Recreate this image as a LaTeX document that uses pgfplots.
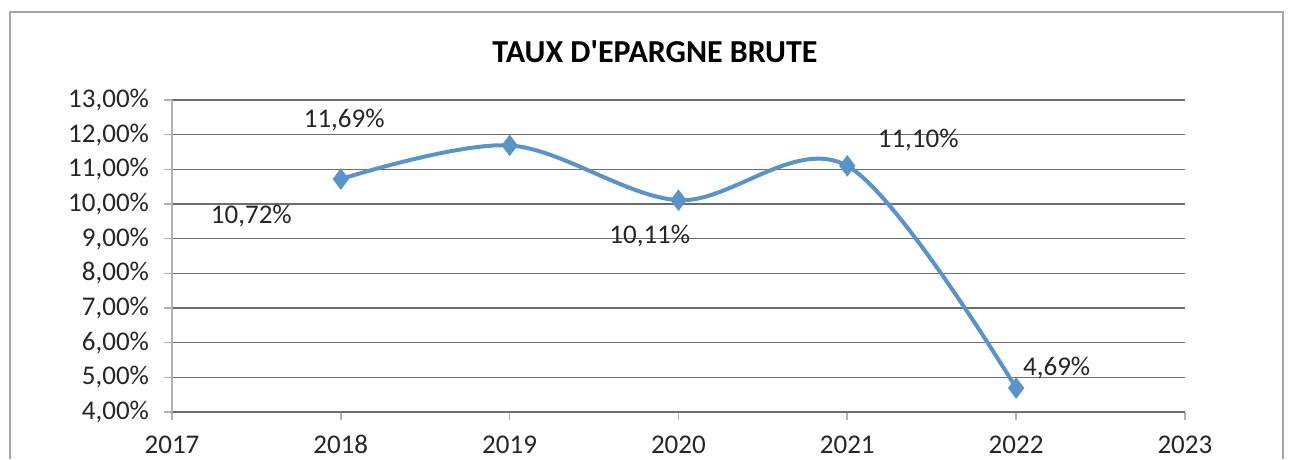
\documentclass[border=0pt]{standalone}
\usepackage{pgfplots}
\pgfplotsset{compat=1.18}
\usepackage{fontspec}
\setmainfont{Carlito}
\definecolor{serie}{RGB}{90,146,202}
\definecolor{gridc}{RGB}{110,110,110}
\begin{document}
\begin{tikzpicture}[x=1pt,y=1pt]
\path (0,0) rectangle (644.5,229.5);
\draw[gray!70,line width=0.8pt] (5,0) -- (5,223.5) -- (641.5,223.5) -- (641.5,0);
\node[font=\fontsize{16}{19}\selectfont\bfseries] at (327.5,203.5) {TAUX D\textquotesingle EPARGNE BRUTE};
\begin{axis}[
  at={(86pt,23.5pt)}, anchor=south west,
  scale only axis, width=506.5pt, height=156pt,
  xmin=2017, xmax=2023, ymin=4, ymax=13,
  axis x line=bottom, axis y line=left,
  axis line style={-, gray!60, line width=0.8pt},
  x axis line style={gridc, line width=0.9pt},
  xtick={2017,...,2023}, ytick={4,...,13},
  tick align=outside, major tick length=4pt,
  tick style={gray!60, line width=0.8pt},
  ymajorgrids, grid style={gridc, line width=0.8pt},
  xticklabel={\pgfmathprintnumber[fixed,1000 sep={}]{\tick}},
  yticklabel={\pgfmathprintnumber[fixed,fixed zerofill,precision=2,use comma]{\tick}\%},
  /pgf/number format/assume math mode=true,
  tick label style={font=\fontsize{13.5}{16}\selectfont, text=black!85},
  xticklabel style={yshift=-4pt, text height=9pt, text depth=0pt},
  yticklabel style={xshift=-4pt},
  clip=false,
]
\addplot[serie, line width=2pt, smooth, tension=0.55, mark=diamond*, mark size=5pt, mark options={fill=serie, draw=serie, line width=0.5pt}]
  coordinates {(2018,10.72) (2019,11.69) (2020,10.11) (2021,11.10) (2022,4.69)};
\begin{scope}[every node/.style={font=\fontsize{13.5}{16}\selectfont, text=black!85}]
\node at (axis cs:2018.02,12.42) {11,69\%};
\node at (axis cs:2017.47,9.65) {10,72\%};
\node at (axis cs:2019.83,9.08) {10,11\%};
\node at (axis cs:2021.42,11.85) {11,10\%};
\node at (axis cs:2022.24,5.27) {4,69\%};
\end{scope}
\end{axis}
\end{tikzpicture}
\end{document}
